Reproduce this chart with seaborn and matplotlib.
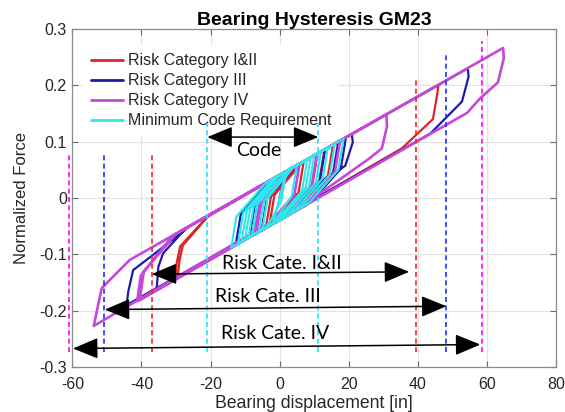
import matplotlib
matplotlib.use("Agg")
import matplotlib.pyplot as plt
from matplotlib.lines import Line2D
import pandas as pd
import seaborn as sns

# ---- series: bearing displacement [in] vs normalized force, in time order ----
categories = ["Risk Category I&II", "Risk Category III",
              "Risk Category IV", "Minimum Code Requirement"]
line_colors = ["#d8262a", "#1c1ca8", "#c548d8", "#2de8ea"]
line_widths = [1.6, 1.6, 1.9, 1.5]

cat12_disp = [0, 1.5, 4, 13, 11.5, 3, -4, -2.5, 5.5, 15.5, 14, 5.5, -7, -5.5, 3,
              46, 45.6, 44.4, 35.4, -30.3, -29.8, -28.8, -21, 11, 9.5, 1,
              -29.5, -29, -28, -20.5, 7, 5.5, -3, -1.5, 6.5, 8]
cat12_force = [0, 0.035, 0.054, 0.086, 0.031, -0.029, -0.053, 0.002, 0.060, 0.095,
               0.040, -0.020, -0.064, -0.009, 0.051, 0.201, 0.183, 0.140, 0.088,
               -0.145, -0.116, -0.086, -0.034, 0.079, 0.024, -0.036, -0.142,
               -0.112, -0.084, -0.031, 0.065, 0.010, -0.050, 0.005, 0.063, 0.068]

cat3_disp = [0, 1.5, 4, 17, 15.5, 7, -8.7, -7.2, 1.3, 20.9, 21.2, 19, 9.8, 0,
             -35.6, -35.1, -33.7, -27, 54.5, 54.7, 52.8, 43.6, -44.3, -43.8,
             -42.4, -36, -26, 13.2, 11.7, 3.2, -12.7, -11.2, -2.7, 19.2, 17.7,
             9.2, -5.2, -3.7, 4.8]
cat3_force = [0, 0.035, 0.054, 0.100, 0.045, -0.015, -0.069, -0.014, 0.045, 0.113,
              0.099, 0.057, 0.020, -0.039, -0.164, -0.122, -0.098, -0.053, 0.230,
              0.215, 0.171, 0.114, -0.190, -0.166, -0.128, -0.098, -0.050, 0.087,
              0.032, -0.028, -0.083, -0.028, 0.031, 0.107, 0.052, -0.007, -0.057,
              -0.002, 0.057]

cat4_disp = [0, 1.5, 4, 17.5, 16, 7.5, -7.3, -5.8, 2.7, 30.9, 31.1, 29.6, 26.2,
             11.7, -53.8, -51.5, -43.4, 64.7, 64.9, 63.2, 58.1, 54.3, -40.5,
             -39.3, -30, 10.8, 9.3, 0.8, -41.2, -40.2, -31, 5.8, 4.3, -4.2, -6.8,
             -5.3, 3.2, 7]
cat4_force = [0, 0.035, 0.054, 0.101, 0.046, -0.013, -0.065, -0.010, 0.050, 0.148,
              0.127, 0.088, 0.071, 0.008, -0.227, -0.160, -0.110, 0.266, 0.248,
              0.205, 0.177, 0.151, -0.181, -0.130, -0.064, 0.078, 0.023, -0.036,
              -0.183, -0.138, -0.067, 0.061, 0.006, -0.054, -0.063, -0.008, 0.052,
              0.065]

code_disp = [0, 1.5, 3, 8, 6.5, -1.5, -6, -4.5, 3.5, 12, 10.5, 2, -10, -8.5, 0,
             18.5, 17, 8.5, -14, -12.5, -4, 10, 8.5, 0, -12, -10.5, -2, 16, 14.5,
             6, -8, -6.5, 2, 0.5, -3, -5, -3.5, 4, 9, 7.5, -1, -9, -7.5, 0, 14,
             12.5, 4, -11, -9.5, -1, 5, 3.5, -2, 0]
code_force = [0, 0.035, 0.051, 0.068, 0.013, -0.044, -0.060, -0.005, 0.053, 0.082,
              0.027, -0.032, -0.074, -0.019, 0.041, 0.105, 0.050, -0.009, -0.088,
              -0.033, 0.027, 0.075, 0.020, -0.039, -0.081, -0.026, 0.034, 0.096,
              0.041, -0.018, -0.067, -0.012, 0.048, -0.005, -0.045, -0.056,
              -0.001, 0.055, 0.072, 0.017, -0.042, -0.070, -0.015, 0.041, 0.090,
              0.035, -0.025, -0.077, -0.022, 0.037, 0.058, 0.003, -0.046, 0]

# ---- peak-displacement limits (dashed verticals) ----
limit_disp = [-61.0, -50.9, -37.0, -20.9, 11.2, 39.4, 48.3, 58.6]
limit_top = [0.080, 0.080, 0.080, 0.133, 0.133, 0.215, 0.254, 0.279]
limit_bottom = [-0.273, -0.273, -0.273, -0.273, -0.273, -0.273, -0.273, -0.273]
limit_colors = ["#ff00ff", "#1f2dff", "#ff1f1f", "#22e0ff",
                "#22e0ff", "#ff1f1f", "#1f2dff", "#ff00ff"]

# ---- range arrows with their labels ----
span_labels = ["Code", "Risk Cate. I&II", "Risk Cate. III", "Risk Cate. IV"]
span_start = [(-20.9, 0.108), (-37.0, -0.135), (-50.6, -0.198), (-59.8, -0.267)]
span_end = [(11.2, 0.108), (37.5, -0.131), (48.3, -0.192), (58.1, -0.260)]
span_text_pos = [(-6.1, 0.084), (0.7, -0.117), (-3.3, -0.174), (-1.4, -0.240)]

x_ticks = [-60, -40, -20, 0, 20, 40, 60, 80]
y_ticks = [-0.3, -0.2, -0.1, 0, 0.1, 0.2, 0.3]
y_tick_labels = ["-0.3", "-0.2", "-0.1", "0", "0.1", "0.2", "0.3"]

sns.set_theme(style="whitegrid")
plt.rcParams["font.family"] = ["Liberation Sans", "DejaVu Sans"]
plt.rcParams["axes.unicode_minus"] = False

fig = plt.figure(figsize=(5.65, 4.12), dpi=100)
ax = fig.add_axes([0.128, 0.109, 0.856, 0.821])
ax.set_facecolor("white")

all_disp = [cat12_disp, cat3_disp, cat4_disp, code_disp]
all_force = [cat12_force, cat3_force, cat4_force, code_force]
for name, xs, ys, c, lw in zip(categories, all_disp, all_force,
                               line_colors, line_widths):
    df = pd.DataFrame({"step": range(len(xs)), "disp": xs, "force": ys})
    sns.lineplot(data=df, x="disp", y="force", sort=False, estimator=None,
                 color=c, linewidth=lw, ax=ax, zorder=3)

for xv, y0, y1, c in zip(limit_disp, limit_bottom, limit_top, limit_colors):
    ax.plot([xv, xv], [y0, y1], color=c, lw=1.2, ls=(0, (3, 2)),
            clip_on=False, zorder=4)

for (x0, y0), (x1, y1), (tx, ty), lab in zip(span_start, span_end,
                                             span_text_pos, span_labels):
    ax.annotate("", xy=(x1, y1), xytext=(x0, y0),
                arrowprops=dict(arrowstyle="<|-|>,head_length=1.2,head_width=0.5",
                                mutation_scale=13, lw=1.1, color="black",
                                shrinkA=0, shrinkB=0),
                zorder=5, annotation_clip=False)
    ax.text(tx, ty, lab, ha="center", va="center", fontsize=14,
            family=["Lato", "DejaVu Sans"], color="black", zorder=6)

ax.set_xlim(-60, 80)
ax.set_ylim(-0.3, 0.3)
ax.set_xticks(x_ticks)
ax.set_yticks(y_ticks)
ax.set_yticklabels(y_tick_labels)
ax.grid(True, color="#e2e2e2", lw=0.8)
ax.set_axisbelow(True)
for sp in ax.spines.values():
    sp.set_visible(True)
    sp.set_color("#8a8a8a")
    sp.set_linewidth(0.9)
ax.tick_params(direction="in", length=4, width=0.8, color="#6a6a6a",
               labelsize=11.5, labelcolor="#262626", top=True, right=True,
               bottom=True, left=True)
ax.tick_params(axis="x", pad=7)
ax.tick_params(axis="y", pad=4)

ax.set_xlabel("Bearing displacement [in]", fontsize=12.7, color="#262626", labelpad=2)
ax.set_ylabel("Normalized Force", fontsize=12, color="#262626", labelpad=7)
ax.set_title("Bearing Hysteresis GM23", fontsize=14, fontweight="bold",
             color="black", pad=3)

handles = [Line2D([], [], color=c, lw=2) for c in line_colors]
leg = ax.legend(handles, categories, loc="upper left", bbox_to_anchor=(0.012, 0.966),
                fontsize=11.5, frameon=True, facecolor="white", edgecolor="none",
                framealpha=1, handlelength=2.0, handletextpad=0.3,
                labelspacing=0.32, borderaxespad=0.3, borderpad=0.5)
leg.set_zorder(2.5)
for t in leg.get_texts():
    t.set_color("#262626")

fig.savefig("out.png", dpi=100)
